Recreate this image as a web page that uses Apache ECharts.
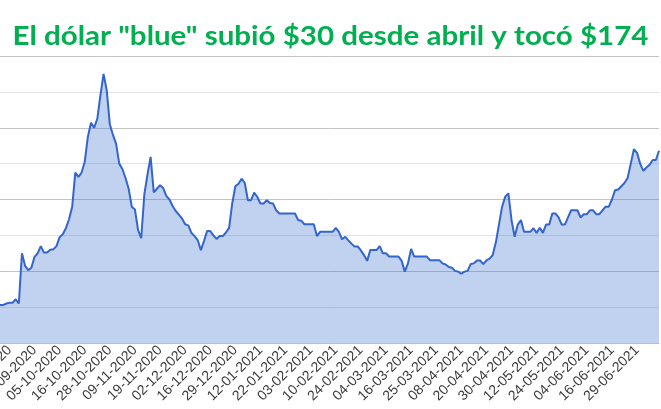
<!DOCTYPE html>
<html>
<head>
<meta charset="utf-8">
<script src="https://cdn.jsdelivr.net/npm/echarts@6/dist/echarts.min.js"></script>
<style>
html,body{margin:0;padding:0;background:#fff;}
#chart{width:661px;height:409px;}
</style>
</head>
<body>
<div id="chart"></div>
<script>
const titleText = 'El dólar "blue" subió $30 desde abril y tocó $174';

const tickLabels = ["11-09-2020","23-09-2020","05-10-2020","16-10-2020","28-10-2020","09-11-2020","19-11-2020","02-12-2020","16-12-2020","29-12-2020","12-01-2021","22-01-2021","03-02-2021","10-02-2021","24-02-2021","04-03-2021","16-03-2021","25-03-2021","08-04-2021","20-04-2021","30-04-2021","12-05-2021","24-05-2021","04-06-2021","16-06-2021","29-06-2021"];
const labelStart = 3;
const labelStep = 8;

const blueValues = [
130.6,130.6,131,131.2,131.2,132.2,131,145,141.5,140.3,
141,144,145,147,145.2,145.2,146,146.1,147,149.5,
150.3,152,154.5,158,167.5,166.3,167.5,170.5,177.5,181.4,
180,182.5,189,195,190.5,181,178,175.5,170,168.5,
166,163,158,157.2,151.5,149.2,161.5,167,171.9,162,
163,164,163.2,161,160,158.2,156.8,155.8,154.7,153.1,
152.8,150.7,149.8,148.7,145.9,148.4,151.2,151.2,150,149,
149.8,149.8,150.8,152.1,158.9,163.7,164.4,165.8,164.6,159.8,
159.8,161.9,160.7,158.9,158.9,159.8,159,158.9,157,156.1,
156.1,156.1,156.1,156.1,156.1,154.3,154.1,153.1,153.1,153.1,
153.1,149.8,151,151,151,151,151,152.1,151,148.9,
149.6,148.6,147.7,146.9,146.9,145.8,144.5,142.9,145.9,145.9,
145.9,147,145,145,144.1,144.1,144.1,144.1,142.9,139.9,
142.2,146.2,144.1,144.1,144.1,144.1,144.1,143.1,143.1,143.1,
143.1,142.2,141.9,141.2,141,140.1,139.9,139.3,139.9,140.1,
142,142.2,143,143,142,143,143.5,144.5,148,153,
158,160.8,161.7,154.3,149.6,153,154.3,151,151,151,
152,150.7,152.1,150.7,153,153,156.1,156.1,155,153,
153,155,157,157,157,155,155.9,155.9,157,157,
155.9,155.9,157,158,158,160,162.6,162.8,163.7,164.6,
166,170,174,173,170,168,168.9,169.7,171,171,
173.6
];

const categories = blueValues.map((v, i) => String(i));

function labelFor(idx) {
  const k = (idx - labelStart) / labelStep;
  return (Number.isInteger(k) && k >= 0 && k < tickLabels.length) ? tickLabels[k] : '';
}

const titleFont = 'bold 26px Lato';
const cv = document.createElement('canvas').getContext('2d');
cv.font = titleFont;
const measured = cv.measureText(titleText).width || 636;
const titleScale = 636 / measured;

const chart = echarts.init(document.getElementById('chart'), null, {renderer: 'canvas'});
chart.setOption({
  animation: false,
  backgroundColor: '#ffffff',
  graphic: [{
    type: 'text',
    x: 330.5,
    y: 37,
    scaleX: titleScale,
    scaleY: 1,
    style: {
      text: titleText,
      x: 0, y: 0,
      fill: '#00B050',
      font: titleFont,
      align: 'center',
      verticalAlign: 'middle'
    },
    z: 10
  }],
  grid: {left: 0, right: 2, top: 56, bottom: 66, containLabel: false, outerBoundsMode: 'none'},
  xAxis: {
    type: 'category',
    data: categories,
    boundaryGap: false,
    axisLine: {show: true, lineStyle: {color: '#bfbfbf', width: 1}},
    axisTick: {show: false},
    splitLine: {show: false},
    axisLabel: {
      rotate: 45,
      interval: (idx) => labelFor(idx) !== '',
      formatter: (val, idx) => labelFor(idx),
      fontFamily: 'Liberation Sans, Arial, sans-serif',
      fontSize: 14,
      color: '#3a3a3a',
      margin: 5,
      hideOverlap: false
    }
  },
  yAxis: {
    type: 'value',
    min: 120,
    max: 200,
    interval: 10,
    axisLine: {show: false},
    axisTick: {show: false},
    axisLabel: {show: false},
    splitLine: {show: true, lineStyle: {color: ['#c4c4c4', '#e3e3e3'], width: 1}}
  },
  series: [{
    type: 'line',
    data: blueValues,
    showSymbol: false,
    smooth: false,
    lineStyle: {color: '#3366cc', width: 2},
    itemStyle: {color: '#3366cc'},
    areaStyle: {color: '#3366cc', opacity: 0.3}
  }]
});
</script>
</body>
</html>
